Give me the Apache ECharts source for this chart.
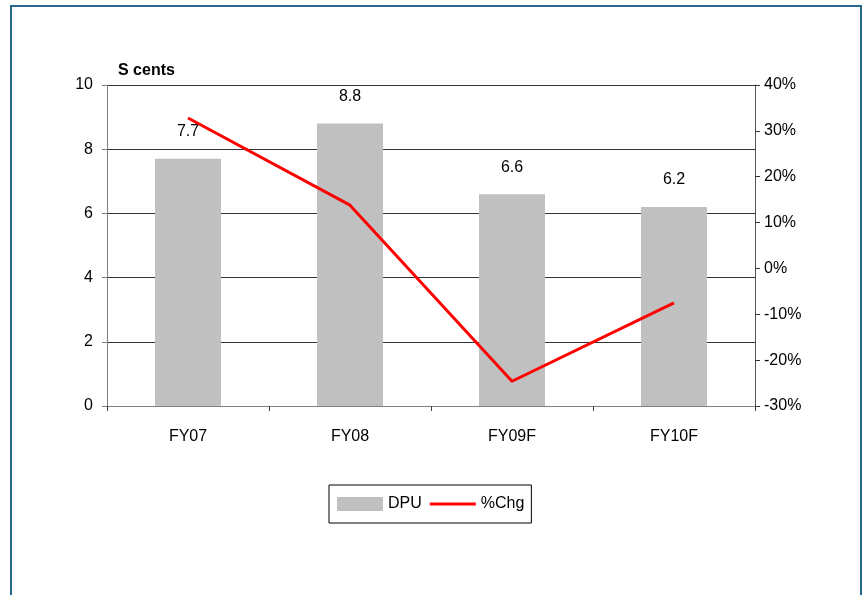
<!DOCTYPE html>
<html>
<head>
<meta charset="utf-8">
<script src="https://cdn.jsdelivr.net/npm/echarts@6/dist/echarts.min.js"></script>
<style>
  html, body { margin: 0; padding: 0; background: #fff; }
  #frame { position: absolute; left: 10px; top: 5px; width: 852px; height: 600px;
           border: 2px solid #2a6690; box-sizing: border-box; }
  #chart { position: absolute; left: 0; top: 0; width: 865px; height: 595px; }
</style>
</head>
<body>
<div id="frame"></div>
<div id="chart"></div>
<script>
// Distribution per unit (S cents) and year-on-year change
const categories = ['FY07', 'FY08', 'FY09F', 'FY10F'];
const dpuValues = [7.7, 8.8, 6.6, 6.2];
const chgValues = [32.8, 13.8, -24.6, -7.5];
const leftTicks = { min: 0, max: 10, interval: 2 };
const rightTicks = { min: -30, max: 40, interval: 10 };

const FONT = 'Liberation Sans, Arial, sans-serif';
const chart = echarts.init(document.getElementById('chart'), null, { renderer: 'canvas' });

chart.setOption({
  backgroundColor: 'transparent',
  animation: false,
  textStyle: { fontFamily: FONT },
  grid: { left: 107, right: 110, top: 85, bottom: 189 },
  title: {
    text: 'S cents', left: 113, top: 58,
    textStyle: { fontFamily: FONT, fontSize: 16, fontWeight: 'bold', color: '#000' }
  },
  legend: {
    left: 329, top: 485,
    padding: [11, 7, 11, 8],
    itemGap: 8,
    itemWidth: 46, itemHeight: 14,
    symbolKeepAspect: true,
    borderColor: '#000', borderWidth: 1, borderRadius: 0,
    textStyle: { fontFamily: FONT, fontSize: 16, color: '#000', padding: [0, 0, 0, 0] },
    data: [
      { name: 'DPU', icon: 'rect' },
      { name: '%Chg', icon: 'path://M0,0L46,0L46,3L0,3Z', itemStyle: { color: '#ff0000' } }
    ]
  },
  xAxis: {
    type: 'category',
    data: categories,
    axisLine: { lineStyle: { color: '#808080', width: 1 } },
    axisTick: { show: true, alignWithLabel: false, length: 5, lineStyle: { color: '#404040' } },
    axisLabel: { color: '#000', fontSize: 16, margin: 23, fontFamily: FONT },
    splitLine: { show: false }
  },
  yAxis: [
    {
      type: 'value', position: 'left',
      min: leftTicks.min, max: leftTicks.max, interval: leftTicks.interval,
      axisLine: { show: true, lineStyle: { color: '#808080' } },
      axisTick: { show: true, length: 5, lineStyle: { color: '#808080' } },
      axisLabel: { color: '#000', fontSize: 16, margin: 14, fontFamily: FONT },
      splitLine: { show: true, lineStyle: { color: '#333', width: 1 } }
    },
    {
      type: 'value', position: 'right',
      min: rightTicks.min, max: rightTicks.max, interval: rightTicks.interval,
      axisLine: { show: true, lineStyle: { color: '#555' } },
      axisTick: { show: true, length: 5, lineStyle: { color: '#333' } },
      axisLabel: { color: '#000', fontSize: 16, margin: 9, fontFamily: FONT, formatter: '{value}%' },
      splitLine: { show: false }
    }
  ],
  series: [
    {
      name: 'DPU', type: 'bar', yAxisIndex: 0,
      data: dpuValues,
      barWidth: 66,
      itemStyle: { color: '#c0c0c0' },
      label: {
        show: true, position: 'top', distance: 19,
        color: '#000', fontSize: 16, fontFamily: FONT
      },
      z: 2
    },
    {
      name: '%Chg', type: 'line', yAxisIndex: 1,
      data: chgValues,
      symbol: 'none',
      lineStyle: { color: '#ff0000', width: 3 },
      itemStyle: { color: '#ff0000' },
      z: 3
    }
  ]
});
</script>
</body>
</html>
